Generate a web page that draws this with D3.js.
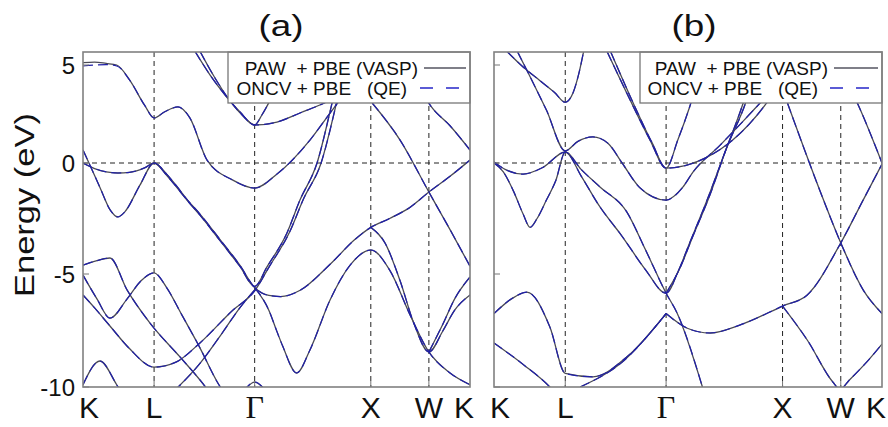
<!DOCTYPE html>
<html><head><meta charset="utf-8">
<script src="https://cdnjs.cloudflare.com/ajax/libs/d3/7.8.5/d3.min.js"></script>
<style>body{margin:0;background:#fff;} svg text{font-family:Arial,"Liberation Sans",sans-serif;fill:#111;}</style>
</head><body><svg id="c" width="888" height="427"></svg>
<script>
// ---- data ----
const kLabels = ["K","L","\u0393","X","W","K"];
const kTicks = [0, 0.612, 1.478, 2.478, 2.978, 3.332];
const yTicks = [5, 0, -5, -10];
const panelTitles = ["(a)", "(b)"];
const legendLabels = ["PAW  + PBE (VASP)", "ONCV + PBE   (QE)"];
const yLabel = "Energy (eV)";

// panel (a) bands [k, E]
const a1 = [[0,5.12],[0.1,5.15],[0.2,5.08],[0.29,5.0],[0.405,4.2],[0.53,2.95],[0.612,2.3],[0.70,2.6],[0.818,2.86],[0.92,2.3],[1.068,0.15],[1.29,-0.77],[1.478,-1.13],[1.67,-0.5],[1.954,1.17],[2.127,2.55],[2.35,4.3],[2.5,5.5]];
const a1q = [[0,4.95],[0.1,5.0],[0.2,5.02],[0.29,4.95],[0.405,4.2],[0.53,2.95],[0.612,2.3],[0.70,2.6],[0.818,2.86],[0.92,2.3],[1.068,0.15],[1.29,-0.77],[1.478,-1.13],[1.67,-0.5],[1.954,1.17],[2.127,2.55],[2.35,4.3],[2.5,5.5]];
const a2 = [[0.964,5.7],[1.093,4.5],[1.223,3.47],[1.352,2.6],[1.478,1.94],[1.67,2.09],[1.868,2.55],[2.127,3.2],[2.35,4.0]];
const a3 = [[1.007,5.7],[1.13,4.4],[1.25,3.3],[1.37,2.45],[1.478,1.94],[1.54,2.45],[1.62,3.3],[1.72,4.5],[1.8,5.7]];
const a4 = [[0,0],[0.1,-0.25],[0.2,-0.4],[0.3,-0.45],[0.4,-0.42],[0.53,-0.22],[0.612,0],[0.72,-0.5],[0.8,-1.0],[0.9,-1.67],[1.007,-2.3],[1.18,-3.45],[1.35,-4.6],[1.478,-5.6],[1.6,-5.95],[1.7,-6.0],[1.87,-5.72],[2.13,-4.55],[2.34,-3.45],[2.478,-2.9],[2.64,-2.5],[2.815,-2.0],[2.978,-1.31],[3.16,-0.6],[3.332,0.15]];
const a5 = [[0,0.66],[0.06,-0.1],[0.146,-1.1],[0.232,-2.1],[0.3,-2.43],[0.36,-2.2],[0.49,-1.0],[0.612,0],[0.72,-0.55],[0.8,-1.05],[0.9,-1.7],[1.007,-2.35],[1.18,-3.5],[1.35,-4.65],[1.478,-5.55],[1.584,-4.68],[1.756,-3.15],[1.868,-1.67],[2.015,0],[2.15,3.2],[2.25,5.7]];
const a6 = [[0,-5.93],[0.1,-6.5],[0.232,-7.3],[0.4,-8.3],[0.612,-9.12],[0.8,-8.9],[1.007,-8.05],[1.29,-6.6],[1.478,-5.75],[1.6,-4.7],[1.78,-3.1],[1.9,-1.6],[2.05,0],[2.18,3.0],[2.28,5.7]];
const a7 = [[0,-4.6],[0.12,-4.4],[0.232,-4.28],[0.38,-5.71],[0.577,-7.17],[0.835,-8.67],[1.007,-9.69],[1.1,-10.3]];
const a8 = [[0,-5.05],[0.12,-6.1],[0.232,-6.95],[0.38,-6.1],[0.5,-5.3],[0.612,-4.95],[0.72,-5.6],[0.85,-6.8],[1.0,-8.2],[1.17,-9.9],[1.25,-10.5]];
const a9 = [[1.478,-5.6],[1.6,-6.6],[1.67,-7.55],[1.72,-8.2],[1.84,-9.38],[1.954,-8.36],[2.127,-6.15],[2.3,-4.6],[2.478,-3.92],[2.643,-4.85],[2.815,-6.8],[2.978,-8.45],[3.16,-9.38],[3.332,-9.9]];
const a10 = [[2.478,-2.9],[2.6,-3.6],[2.73,-5.3],[2.85,-7.2],[2.978,-8.45],[3.1,-7.5],[3.2,-6.6],[3.332,-5.93]];
const a11 = [[2.978,-8.45],[3.1,-7.2],[3.2,-6.1],[3.332,-5.13]];
const a12 = [[2.49,3.06],[2.73,1.17],[2.978,-1.31],[3.16,-3.0],[3.332,-4.65]];
const a13 = [[2.95,3.3],[3.0,2.86],[3.16,1.9],[3.332,0.66]];
const a14 = [[0,-9.9],[0.146,-8.85],[0.29,-9.9],[0.35,-10.4]];
const a15 = [[1.38,-10.2],[1.478,-9.78],[1.58,-10.2]];
const a16 = [[0.78,-10.2],[1.0,-9.0],[1.2,-7.6],[1.35,-6.5],[1.478,-5.7]];

// panel (b) bands [k, E]
const b1 = [[0.11,5.7],[0.25,4.9],[0.395,4.2],[0.52,3.6],[0.612,3.1],[0.68,3.6],[0.73,4.6],[0.77,5.7]];
const b2 = [[0.2,5.7],[0.31,4.4],[0.45,2.7],[0.612,0.62],[0.72,1.1],[0.85,1.33],[0.98,1.0],[1.1,0],[1.25,-1.1],[1.478,-1.67],[1.62,-1.1],[1.71,-0.4],[1.94,0.9],[2.15,2.2],[2.4,3.8]];
const b3 = [[0,0.05],[0.1,-0.3],[0.25,-0.5],[0.42,-0.2],[0.612,0.56],[0.75,-0.3],[0.91,-1.08],[1.14,-2.2],[1.3,-3.9],[1.478,-5.85],[1.57,-6.7],[1.79,-10]];
const b4 = [[0,0],[0.08,-0.4],[0.17,-1.3],[0.25,-2.3],[0.31,-2.9],[0.37,-2.5],[0.45,-1.67],[0.53,-0.8],[0.612,0.56],[0.75,-0.6],[0.9,-1.9],[1.1,-3.3],[1.3,-4.8],[1.478,-5.85],[1.58,-4.9],[1.68,-3.6],[1.83,-1.67],[1.98,0.5],[2.14,3.06],[2.24,5.0]];
const b5 = [[0.97,5.7],[1.17,3.2],[1.34,1.17],[1.478,-0.23],[1.83,0.3],[2.05,1.17],[2.34,3.06],[2.5,4.5]];
const b6 = [[1.0,5.7],[1.2,3.0],[1.36,1.0],[1.478,-0.23],[1.58,1.2],[1.68,2.86],[1.77,4.6],[1.83,5.7]];
const b7 = [[1.478,-5.85],[1.6,-4.7],[1.7,-3.4],[1.85,-1.5],[2.0,0.8],[2.16,3.06],[2.26,5.0]];
const b8 = [[1.478,-6.75],[1.66,-7.4],[1.855,-7.61],[2.11,-7.26],[2.478,-6.42],[2.69,-5.93],[2.978,-3.6],[3.17,-1.67],[3.332,-0.05]];
const b9 = [[2.478,-6.42],[2.69,-7.92],[2.91,-9.78],[2.97,-10.1],[3.05,-9.7],[3.2,-8.9],[3.332,-8.1]];
const b10 = [[2.52,3.06],[2.83,-1.67],[2.978,-3.6],[3.17,-5.7],[3.332,-6.75]];
const b11 = [[3.0,4.5],[3.12,3.06],[3.332,0.0]];
const b12 = [[0,-6.75],[0.15,-6.1],[0.283,-5.8],[0.48,-7.35],[0.612,-9.4],[0.85,-9.55],[1.14,-8.67],[1.478,-6.75]];
const b13 = [[0,-8.05],[0.25,-9.0],[0.48,-10.0],[0.55,-10.4]];
const b14 = [[0.74,-10.0],[1.1,-8.9],[1.478,-6.75]];

const bandsA = [a1,a2,a3,a4,a5,a6,a7,a8,a9,a10,a11,a12,a13,a14,a15,a16];
const bandsAqe = [a1q,a2,a3,a4,a5,a6,a7,a8,a9,a10,a11,a12,a13,a14,a15,a16];
const bandsB = [b1,b2,b3,b4,b5,b6,b7,b8,b9,b10,b11,b12,b13,b14];
const bandsBqe = bandsB;

// ---- drawing ----
const svg = d3.select("#c");
const panels = [
  {x0:83, x1:470, vasp:bandsA, qe:bandsAqe, title:panelTitles[0], tx:281, yLabels:true, leg:[228,418,407]},
  {x0:494, x1:882, vasp:bandsB, qe:bandsBqe, title:panelTitles[1], tx:694, yLabels:false, leg:[640,828,818]}
];
const yTop = 52, yBot = 387;
const y = d3.scaleLinear().domain([5,0,-5,-10]).range([65,163,274,387]);

panels.forEach((p,i)=>{
  const x = d3.scaleLinear().domain([0,3.332]).range([p.x0,p.x1]);
  const g = svg.append("g");
  const cid = "clip"+i;
  svg.append("clipPath").attr("id",cid).append("rect")
     .attr("x",p.x0).attr("y",yTop).attr("width",p.x1-p.x0).attr("height",yBot-yTop);
  g.selectAll("line.kv").data(kTicks.slice(1,-1)).join("line")
    .attr("x1",d=>x(d)).attr("x2",d=>x(d)).attr("y1",yTop).attr("y2",yBot)
    .attr("stroke","#222").attr("stroke-width",1).attr("stroke-dasharray","5,4");
  g.append("line").attr("x1",p.x0).attr("x2",p.x1).attr("y1",y(0)).attr("y2",y(0))
    .attr("stroke","#222").attr("stroke-width",1).attr("stroke-dasharray","5,4");
  const line = d3.line().x(d=>x(d[0])).y(d=>y(d[1])).curve(d3.curveMonotoneX);
  const bg = g.append("g").attr("clip-path",`url(#${cid})`);
  bg.selectAll("path.v").data(p.vasp).join("path").attr("d",line)
    .attr("fill","none").attr("stroke","#4a4a55").attr("stroke-width",1.3);
  bg.selectAll("path.q").data(p.qe).join("path").attr("d",line)
    .attr("fill","none").attr("stroke","#2020a8").attr("stroke-width",1.2).attr("stroke-dasharray","10,5");
  g.selectAll("line.yt").data(yTicks).join("line")
    .attr("x1",p.x0).attr("x2",p.x0+6).attr("y1",d=>y(d)).attr("y2",d=>y(d))
    .attr("stroke","#777").attr("stroke-width",1);
  g.selectAll("line.xt").data(kTicks.slice(1,-1)).join("line")
    .attr("x1",d=>x(d)).attr("x2",d=>x(d)).attr("y1",yBot).attr("y2",yBot-6)
    .attr("stroke","#777").attr("stroke-width",1);
  const [lx, t1, t2] = p.leg;
  g.append("rect").attr("x",lx).attr("y",yTop).attr("width",p.x1-lx).attr("height",51)
    .attr("fill","#fff").attr("stroke","#777").attr("stroke-width",1.3);
  g.append("text").attr("x",t1).attr("y",75).attr("text-anchor","end").attr("font-size",19)
    .style("white-space","pre").text(legendLabels[0]);
  g.append("text").attr("x",t2).attr("y",95).attr("text-anchor","end").attr("font-size",19)
    .style("white-space","pre").text(legendLabels[1]);
  g.append("line").attr("x1",t1+6).attr("x2",p.x1-4).attr("y1",68).attr("y2",68)
    .attr("stroke","#555560").attr("stroke-width",1.3);
  g.append("line").attr("x1",t1+2).attr("x2",p.x1-4).attr("y1",88).attr("y2",88)
    .attr("stroke","#2626c8").attr("stroke-width",1.6).attr("stroke-dasharray","13,13");
  g.append("rect").attr("x",p.x0).attr("y",yTop).attr("width",p.x1-p.x0).attr("height",yBot-yTop)
    .attr("fill","none").attr("stroke","#808080").attr("stroke-width",1.6);
  g.selectAll("text.xl").data(kTicks).join("text")
    .attr("x",(d,j)=> x(d) + (j===0?6:(j===kTicks.length-1?-6:0)))
    .attr("y",418).attr("text-anchor","middle")
    .attr("font-size",(d,j)=> j===2?32:30)
    .style("font-family",(d,j)=> j===2?"'Liberation Serif','DejaVu Serif',serif":null)
    .text((d,j)=>kLabels[j]);
  g.append("text").attr("x",p.tx).attr("y",36).attr("text-anchor","middle").attr("font-size",30)
    .attr("textLength",45).attr("lengthAdjust","spacingAndGlyphs").text(p.title);
  if(p.yLabels){
    g.selectAll("text.yl").data(yTicks).join("text")
      .attr("x",p.x0-8).attr("y",d=>y(d)+8.5).attr("text-anchor","end").attr("font-size",24)
      .text(d=>d);
  }
});
svg.append("text").attr("transform","translate(34,205) rotate(-90)").attr("text-anchor","middle")
  .attr("font-size",28).attr("textLength",184).attr("lengthAdjust","spacingAndGlyphs").text(yLabel);
</script></body></html>
